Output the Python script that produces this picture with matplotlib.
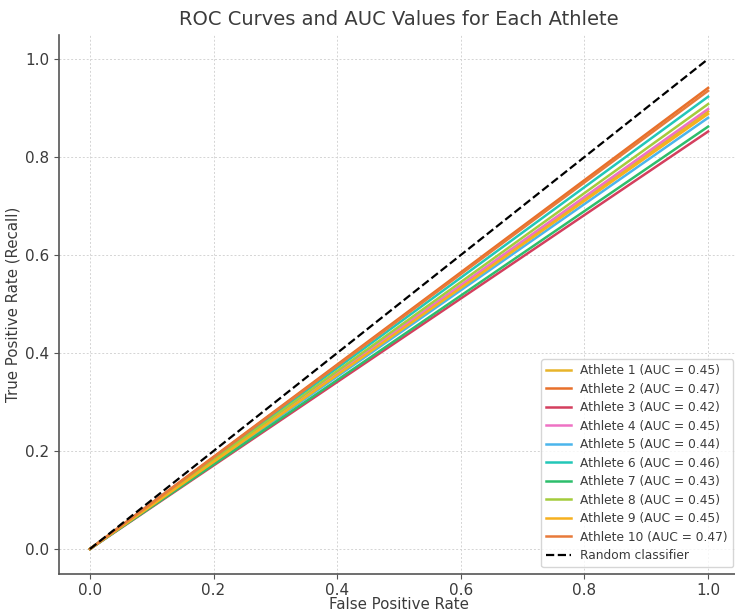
import matplotlib.pyplot as plt

# data
athletes = ["Athlete 1", "Athlete 2", "Athlete 3", "Athlete 4", "Athlete 5",
            "Athlete 6", "Athlete 7", "Athlete 8", "Athlete 9", "Athlete 10"]
auc_values = [0.45, 0.47, 0.42, 0.45, 0.44, 0.46, 0.43, 0.45, 0.45, 0.47]
fpr_points = [0.0, 1.0]
tpr_end = [0.893, 0.941, 0.852, 0.898, 0.880, 0.923, 0.862, 0.908, 0.888, 0.935]
colors = ["#E8B42A", "#E8702A", "#D43F5E", "#EE72C4", "#4BB5EC",
          "#22C7B8", "#2DBE6C", "#A4CC3C", "#F6B01E", "#E87A3A"]

txt = "#3b3b3b"
plt.rcParams["font.family"] = "DejaVu Sans"

fig = plt.figure(figsize=(7.35, 6.11), dpi=100)
ax = fig.add_axes([59 / 735, 37.5 / 611, 680 / 735, 539 / 611])

for name, auc, end, c in zip(athletes, auc_values, tpr_end, colors):
    ax.plot(fpr_points, [0.0, end], color=c, lw=1.8,
            label=f"{name} (AUC = {auc:.2f})")
ax.plot([0, 1], [0, 1], "k--", lw=1.6, label="Random classifier")

ax.set_xlim(-0.05, 1.05)
ax.set_ylim(-0.05, 1.05)
ax.set_xticks([0, 0.2, 0.4, 0.6, 0.8, 1.0])
ax.set_yticks([0, 0.2, 0.4, 0.6, 0.8, 1.0])
ax.grid(True, linestyle=(0, (2, 2)), color="#d4d4d4", lw=0.7)

for s in ["top", "right"]:
    ax.spines[s].set_visible(False)
for s in ["left", "bottom"]:
    ax.spines[s].set_color("#555555")
    ax.spines[s].set_linewidth(1.2)
ax.tick_params(colors="#555555", labelcolor=txt, labelsize=11)

ax.set_title("ROC Curves and AUC Values for Each Athlete", fontsize=14, color=txt, pad=7)
ax.set_xlabel("False Positive Rate", fontsize=10.8, color=txt, labelpad=-1)
ax.set_ylabel("True Positive Rate (Recall)", fontsize=10.8, color=txt, labelpad=3)

leg = ax.legend(loc="lower right", bbox_to_anchor=(733 / 735, 44 / 611),
                bbox_transform=fig.transFigure, borderaxespad=0, fontsize=8.8,
                labelcolor=txt, handlelength=2.0, labelspacing=0.45, fancybox=True)

fig.savefig("out.png", dpi=100)
